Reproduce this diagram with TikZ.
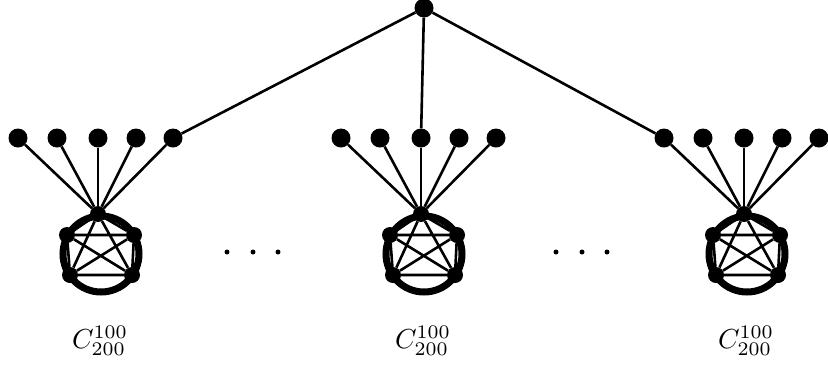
\documentclass[tikz,border=0pt]{standalone}
\begin{document}
\begin{tikzpicture}[x=1pt,y=-1pt,
  vtx/.style={circle,fill=black,inner sep=0pt,minimum size=19pt},
  svtx/.style={circle,fill=black,inner sep=0pt,minimum size=16pt},
  edge/.style={line width=2.6pt},
  ring/.style={line width=7pt},
  lbl/.style={scale=2.75,inner sep=0pt}]
\useasboundingbox (0,0) rectangle (828,368);
\node[vtx] (top) at (424,8) {};
\foreach \i/\hx in {1/98,2/421,3/744}{
  % ring
  \draw[ring] (\hx+3,254) circle (38);
  \node[svtx] (h\i) at (\hx,214) {};
  \node[svtx] (ul\i) at (\hx-31,235) {};
  \node[svtx] (ur\i) at (\hx+36,235) {};
  \node[svtx] (ll\i) at (\hx-28,275) {};
  \node[svtx] (lr\i) at (\hx+34,275) {};
  \draw[edge] (h\i) -- (ul\i) (h\i) -- (ur\i) (h\i) -- (ll\i) (h\i) -- (lr\i)
              (ul\i) -- (ur\i) (ll\i) -- (lr\i) (ul\i) -- (lr\i) (ur\i) -- (ll\i)
              (ul\i) -- (ll\i) (ur\i) -- (lr\i);
  \foreach \j/\dx in {1/-80,2/-41,3/0,4/38,5/75}{
    \node[vtx] (l\i-\j) at (\hx+\dx,138) {};
    \draw[edge] (h\i) -- (l\i-\j);
  }
  \node[lbl] (c\i) at (\hx+2,341) {$C_{200}^{100}$};
}
\draw[edge] (top) -- (l1-5) (top) -- (l2-3) (top) -- (l3-1);
\foreach \x in {227,253,278,556,582,607}{
  \fill (\x,252) circle (2.5);
}
\end{tikzpicture}
\end{document}
